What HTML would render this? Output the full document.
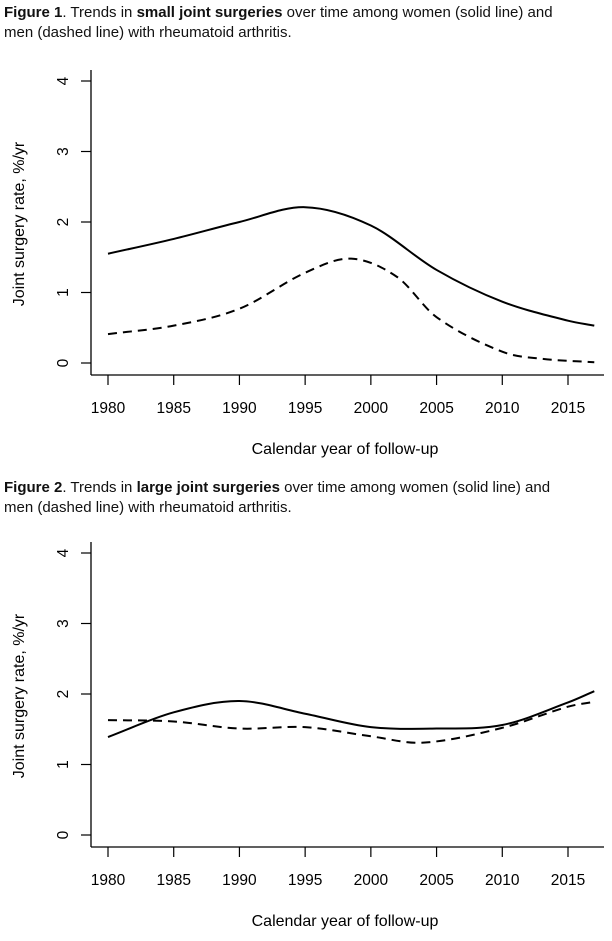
<!DOCTYPE html>
<html><head><meta charset="utf-8"><style>
body{margin:0;background:#fff;width:612px;height:941px;overflow:hidden;font-family:"Liberation Sans",sans-serif}
.cap{position:absolute;left:4px;font-size:15px;line-height:20px;color:#111;width:608px;white-space:nowrap}
svg{position:absolute;left:0;top:0}
</style></head><body>
<div class="cap" style="top:3px"><b>Figure 1</b>. Trends in <b>small joint surgeries</b> over time among women (solid line) and<br>men (dashed line) with rheumatoid arthritis.</div>
<div class="cap" style="top:478px"><b>Figure 2</b>. Trends in <b>large joint surgeries</b> over time among women (solid line) and<br>men (dashed line) with rheumatoid arthritis.</div>
<svg id="s" width="612" height="941"></svg>
<script>
const xTicks=[1980,1985,1990,1995,2000,2005,2010,2015];
const yTicks=[0,1,2,3,4];
const f1Years=[1980,1985,1990,1995,2000,2005,2010,2015,2017];
const f1Women=[1.55,1.76,2.0,2.21,1.95,1.32,0.87,0.6,0.53];
const f1MenYears=[1980,1985,1990,1995,1998.5,2002,2005,2010,2013,2017];
const f1Men=[0.41,0.53,0.77,1.28,1.48,1.22,0.65,0.16,0.06,0.01];
const f2Years=[1980,1985,1990,1995,2000,2005,2010,2015,2017];
const f2Women=[1.39,1.74,1.90,1.72,1.53,1.51,1.56,1.88,2.04];
const f2MenYears=[1980,1985,1990,1995,2000,2004,2010,2015,2017];
const f2Men=[1.63,1.61,1.51,1.53,1.40,1.31,1.52,1.82,1.89];
const NS='http://www.w3.org/2000/svg';const svg=document.getElementById('s');
function el(t,a,p){const e=document.createElementNS(NS,t);for(const k in a)e.setAttribute(k,a[k]);(p||svg).appendChild(e);return e;}
const X=v=>108+(v-1980)*(460/35);
function smooth(pts){const n=pts.length,m=[];
 for(let i=0;i<n;i++){const a=pts[Math.max(0,i-1)],b=pts[Math.min(n-1,i+1)];m.push((b[1]-a[1])/(b[0]-a[0]));}
 let d='M'+pts[0][0]+','+pts[0][1];
 for(let i=0;i<n-1;i++){const p=pts[i],q=pts[i+1],h=(q[0]-p[0])/3;
  d+=' C'+(p[0]+h)+','+(p[1]+m[i]*h)+' '+(q[0]-h)+','+(q[1]-m[i+1]*h)+' '+q[0]+','+q[1];}
 return d;}
function chart(name,y0,y4,axY,wx,wy,mx,my){
 const Y=v=>y0+(y4-y0)*v/4;
 const g=el('g',{});
 const ya=el('line',{x1:91,x2:91,y1:y4-11,y2:axY,stroke:'#000','stroke-width':1.3},g);
 const xa=el('line',{x1:91,x2:604,y1:axY,y2:axY,stroke:'#000','stroke-width':1.3},g);
 yTicks.forEach(t=>{el('line',{x1:81,x2:91,y1:Y(t),y2:Y(t),stroke:'#000','stroke-width':1.2},g);
  const tx=el('text',{x:0,y:0,transform:`translate(64,${Y(t)}) rotate(-90)`,'text-anchor':'middle','dominant-baseline':'middle','font-size':15.5},g);tx.textContent=t;});
 xTicks.forEach(t=>{el('line',{x1:X(t),x2:X(t),y1:axY,y2:axY+10,stroke:'#000','stroke-width':1.2},g);
  const tx=el('text',{x:X(t),y:axY+38,'text-anchor':'middle','font-size':15.5},g);tx.textContent=t;});
 const yt=el('text',{transform:`translate(24,${(y0+y4)/2+2}) rotate(-90)`,'text-anchor':'middle','font-size':16},g);yt.textContent='Joint surgery rate, %/yr';
 const xt=el('text',{x:345,y:axY+79,'text-anchor':'middle','font-size':16},g);xt.textContent='Calendar year of follow-up';
 const w=el('path',{d:smooth(wx.map((x,i)=>[X(x),Y(wy[i])])),fill:'none',stroke:'#000','stroke-width':2},g);
 const m=el('path',{d:smooth(mx.map((x,i)=>[X(x),Y(my[i])])),fill:'none',stroke:'#000','stroke-width':2,'stroke-dasharray':'9,6'},g);
}
chart('figure-1-chart',363,81,375,f1Years,f1Women,f1MenYears,f1Men);
chart('figure-2-chart',835,553,847,f2Years,f2Women,f2MenYears,f2Men);
</script>
</body></html>
